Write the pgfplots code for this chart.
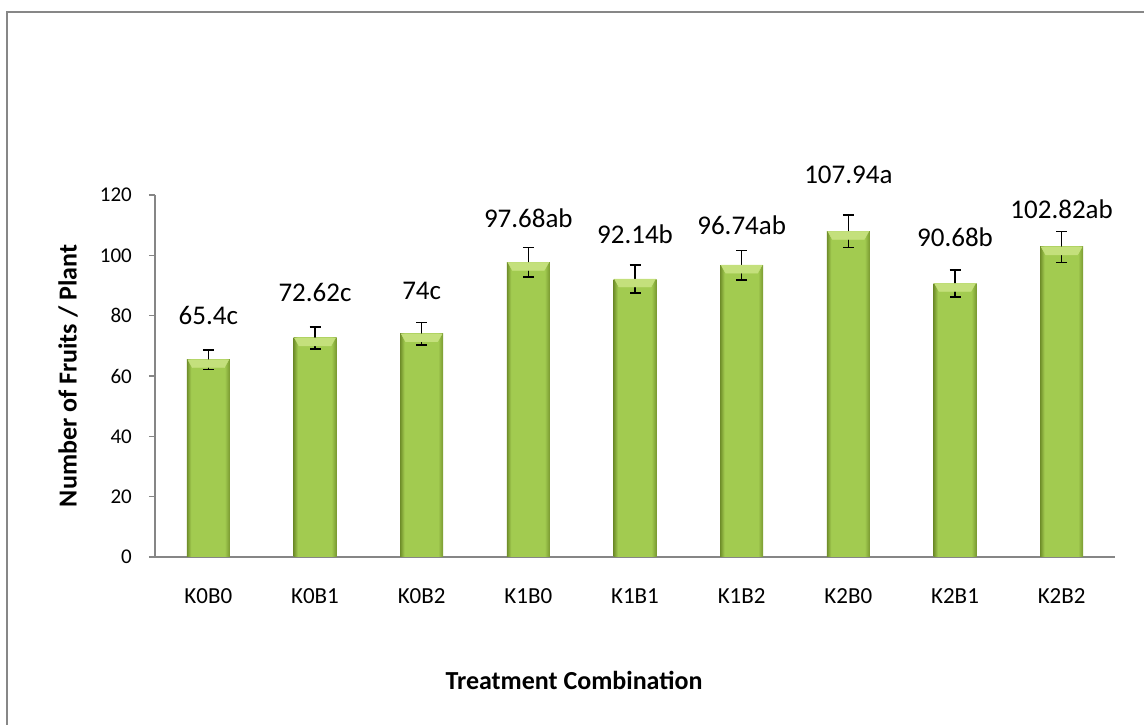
\documentclass[border=0pt]{standalone}
\usepackage{pgfplots}
\pgfplotsset{compat=1.18}
\usepackage{pgfplotstable}
\usepackage{fontspec}
\setmainfont{Carlito}
\definecolor{framegray}{HTML}{878787}
\definecolor{axisgray}{HTML}{868686}
\definecolor{barleft}{HTML}{6F8E2A}
\definecolor{barmid}{HTML}{A2CB50}
\definecolor{barright}{HTML}{789830}
\definecolor{bevelc}{HTML}{C4E07C}
\pgfdeclarehorizontalshading{barshade}{100bp}{color(0bp)=(barleft); color(25bp)=(barleft); color(30bp)=(barmid); color(69bp)=(barmid); color(75bp)=(barright); color(100bp)=(barright)}
\pgfdeclareplotmark{bevel}{%
  \fill[bevelc] (-20.5pt,0pt) -- (20.5pt,0pt) -- (16pt,-8pt) -- (-16pt,-8pt) -- cycle;}
\pgfplotstableread{
x y err ly label
0 65.40 3.27 80.1 65.4c
1 72.62 3.63 87.6 72.62c
2 74.00 3.70 88.1 74c
3 97.68 4.88 112.4 97.68ab
4 92.14 4.61 107.1 92.14b
5 96.74 4.84 110.0 96.74ab
6 107.94 5.40 126.7 107.94a
7 90.68 4.53 106.0 90.68b
8 102.82 5.14 115.4 102.82ab
}\datatable
\pgfplotsset{
  greenbar/.style={ybar, bar width=43pt, bar shift=0pt, draw=none, shading=barshade, mark=none},
}
\newcommand\onebar[1]{\addplot[restrict x to domain=#1, greenbar] table[x=x, y=y] {\datatable};}
\begin{document}
\begin{tikzpicture}[x=1pt,y=1pt]
\path[use as bounding box] (0pt,0pt) rectangle (1144pt,725pt);
\draw[line width=2pt, framegray] (7pt,0pt) -- (7pt,713pt) -- (1144pt,713pt);
\begin{axis}[
  at={(155pt,168pt)}, anchor=south west,
  scale only axis, width=960pt, height=362pt,
  xmin=-0.5, xmax=8.5, ymin=0, ymax=120,
  ytick={0,20,...,120},
  xtick={0,...,8},
  xticklabels={K0B0,K0B1,K0B2,K1B0,K1B1,K1B2,K2B0,K2B1,K2B2},
  /pgf/number format/assume math mode=true,
  axis x line*=bottom, axis y line*=left,
  axis line style={-, draw=axisgray, line width=1.5pt},
  tick align=outside, major tick length=6pt,
  ytick style={draw=axisgray, line width=1.5pt},
  xtick style={draw=none},
  yticklabel style={anchor=east, inner sep=0pt, xshift=-17pt, font=\fontsize{21}{24}\selectfont},
  xticklabel style={anchor=center, inner sep=0pt, yshift=-33pt, font=\fontsize{23}{26}\selectfont},
  clip=false,
]
\onebar{-0.2:0.2}
\onebar{0.8:1.2}
\onebar{1.8:2.2}
\onebar{2.8:3.2}
\onebar{3.8:4.2}
\onebar{4.8:5.2}
\onebar{5.8:6.2}
\onebar{6.8:7.2}
\onebar{7.8:8.2}
\addplot[only marks, mark=bevel] table[x=x, y=y] {\datatable};
\addplot[draw=none, mark=none,
  error bars/.cd, y dir=both, y explicit,
  error bar style={draw=black, line width=1.5pt},
  error mark options={rotate=90, draw=black, mark size=5.5pt, line width=1.5pt}]
  table[x=x, y=y, y error=err] {\datatable};
\addplot[draw=none, mark=none, nodes near coords, point meta=explicit symbolic,
  nodes near coords style={anchor=center, inner sep=0pt, font=\fontsize{27}{30}\selectfont}]
  table[x=x, y=ly, meta=label] {\datatable};
\end{axis}
\node[font=\bfseries\fontsize{26}{30}\selectfont] at (574pt,45pt) {Treatment Combination};
\node[rotate=90, font=\bfseries\fontsize{26}{30}\selectfont] at (68pt,349pt) {Number of Fruits / Plant};
\end{tikzpicture}
\end{document}
